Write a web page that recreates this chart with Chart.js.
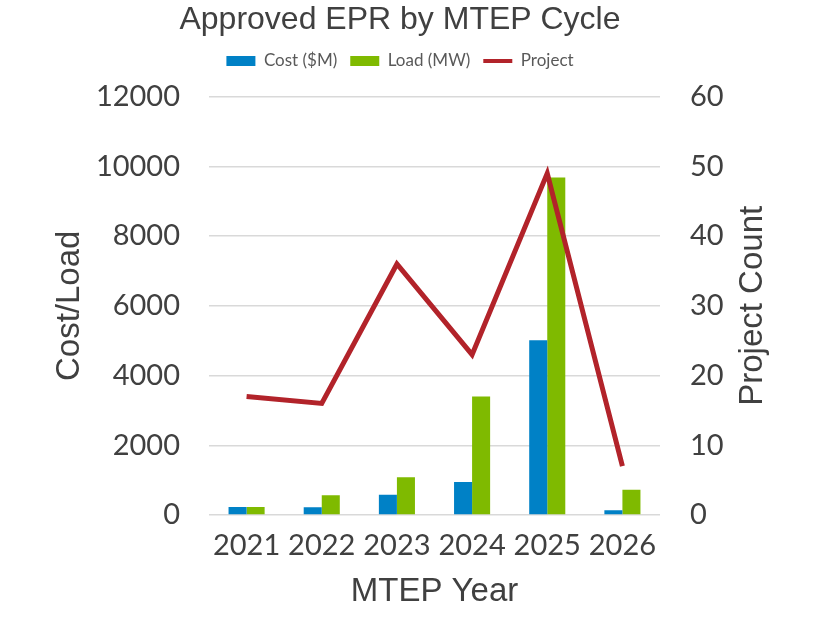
<!DOCTYPE html>
<html>
<head>
<meta charset="utf-8">
<script src="https://cdn.jsdelivr.net/npm/chart.js@4.4.1/dist/chart.umd.min.js"></script>
<style>
  html, body { margin: 0; padding: 0; background: #fff; }
  #wrap { width: 826px; height: 620px; }
</style>
</head>
<body>
<div id="wrap"><canvas id="myChart" width="826" height="620"></canvas></div>
<script>
const years = ['2021', '2022', '2023', '2024', '2025', '2026']
const costM = [230, 220, 580, 950, 5010, 135]
const loadMW = [230, 570, 1080, 3400, 9680, 725]
const projects = [17, 16, 36, 23, 49, 7]

const textGrey = '#404040'
const tickFont = { family: 'Lato', size: 29 }
const titleFont = { family: 'Liberation Sans', size: 33 }

// right axis title reads bottom-to-top in the original, Chart.js rotates it the other way
const rightTitle = {
    id: 'rightTitle',
    afterDraw(chart) {
        const area = chart.chartArea
        const c = chart.ctx
        c.save()
        c.translate(753, (area.top + area.bottom) / 2)
        c.rotate(-Math.PI / 2)
        c.font = '33px "Liberation Sans"'
        c.fillStyle = textGrey
        c.textAlign = 'center'
        c.textBaseline = 'middle'
        c.fillText('Project Count', 0, 0)
        c.restore()
    }
}

var ctx = document.getElementById('myChart').getContext('2d');
var myChart = new Chart(ctx, {
    type: 'bar',
    data: {
        labels: years,
        datasets: [{
            label: 'Cost ($M)',
            data: costM,
            backgroundColor: '#0081C6',
            yAxisID: 'y'
        }, {
            label: 'Load (MW)',
            data: loadMW,
            backgroundColor: '#7FBA00',
            yAxisID: 'y'
        }, {
            type: 'line',
            label: 'Project',
            data: projects,
            borderColor: '#B2232A',
            backgroundColor: '#B2232A',
            borderWidth: 5,
            pointRadius: 0,
            tension: 0,
            order: -1,
            yAxisID: 'y1'
        }]
    },
    plugins: [rightTitle],
    options: {
        responsive: false,
        animation: false,
        layout: { padding: { left: 0, right: 26, top: 0, bottom: 0 } },
        datasets: {
            bar: { categoryPercentage: 0.48, barPercentage: 1 }
        },
        plugins: {
            title: {
                display: true,
                text: 'Approved EPR by MTEP Cycle',
                color: textGrey,
                font: { family: 'Liberation Sans', size: 32, weight: 'normal' },
                padding: { top: 1, bottom: 0 }
            },
            subtitle: {
                // spacer between legend and plot
                display: true,
                text: ' ',
                weight: 500,
                font: { size: 1 },
                padding: { top: 0, bottom: 16 }
            },
            legend: {
                labels: {
                    color: '#595959',
                    font: { family: 'Lato', size: 17 },
                    padding: 13,
                    boxHeight: 10,
                    usePointStyle: true,
                    pointStyleWidth: 29,
                    sort: (a, b) => a.datasetIndex - b.datasetIndex,
                    generateLabels: chart => {
                        const items = Chart.defaults.plugins.legend.labels.generateLabels(chart)
                        items.forEach(it => {
                            if (it.datasetIndex === 2) {
                                it.pointStyle = 'line'
                                it.lineWidth = 4
                                it.strokeStyle = '#B2232A'
                            } else {
                                it.pointStyle = 'rect'
                                it.lineWidth = 0
                            }
                        })
                        return items
                    }
                }
            },
            tooltip: { enabled: false }
        },
        scales: {
            x: {
                grid: { display: false },
                border: { display: false },
                ticks: { color: textGrey, font: tickFont, padding: 5, maxRotation: 0, autoSkip: false },
                title: { display: true, text: 'MTEP Year', color: textGrey, font: titleFont, padding: { top: 0, bottom: 8 } },
                afterFit: scale => { scale.height = 105 }
            },
            y: {
                position: 'left',
                min: 0,
                max: 12000,
                ticks: { stepSize: 2000, color: textGrey, font: tickFont, padding: 29, callback: v => String(v) },
                grid: { color: '#D9D9D9', lineWidth: 1.5, drawTicks: false },
                border: { display: false },
                title: { display: true, text: 'Cost/Load', color: textGrey, font: titleFont, padding: { top: 50, bottom: 0 } },
                afterFit: scale => { scale.width = 209 }
            },
            y1: {
                position: 'right',
                min: 0,
                max: 60,
                ticks: { stepSize: 10, color: textGrey, font: tickFont, padding: 30, callback: v => String(v) },
                grid: { display: false, drawTicks: false },
                border: { display: false },
                title: { display: false },
                afterFit: scale => { scale.width = 140 }
            }
        }
    }
});
</script>
</body>
</html>
